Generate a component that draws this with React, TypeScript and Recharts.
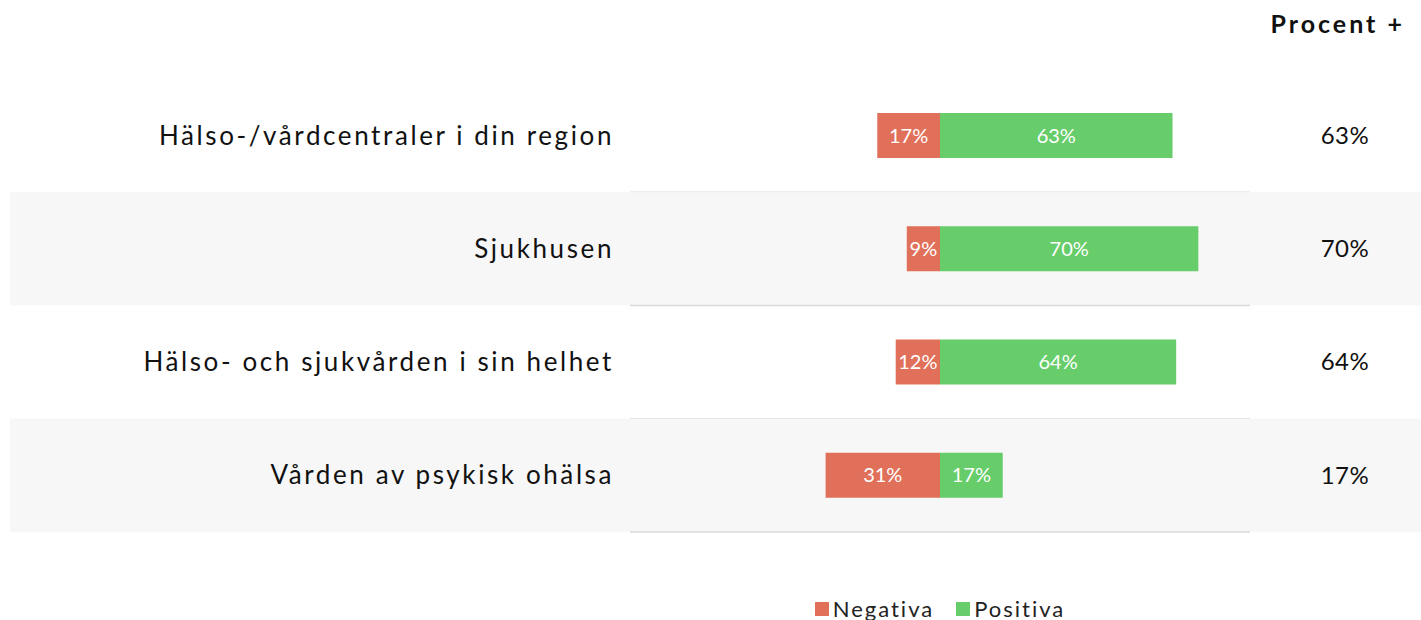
import React from "react";
import { BarChart, Bar, XAxis, YAxis, LabelList, Legend } from "recharts";

const categories = [
  "Hälso-/vårdcentraler i din region",
  "Sjukhusen",
  "Hälso- och sjukvården i sin helhet",
  "Vården av psykisk ohälsa",
];
const negativa = [17, 9, 12, 31];
const positiva = [63, 70, 64, 17];
const procentPlus = [63, 70, 64, 17];

const NEG_COLOR = "#E1705A";
const POS_COLOR = "#66CD6A";
const BAND_FILL = "#F7F7F7";
const LINE_COLOR = "#DCDCDC";
const FONT = "Lato, 'Open Sans', sans-serif";

const W = 1421;
const H = 620;
const MARGIN = { top: 79, right: 171, bottom: 88, left: 10 };
const Y_AXIS_W = 620;
const PLOT_LEFT = MARGIN.left + Y_AXIS_W;
const PLOT_RIGHT = W - MARGIN.right;
const PLOT_H = H - MARGIN.top - MARGIN.bottom;
const BAND = PLOT_H / categories.length;

const data = categories.map((name, i) => ({
  name,
  neg: -negativa[i],
  pos: positiva[i],
  plus: procentPlus[i],
}));

// striped row backgrounds + separator under each row
const RowBackground = (props: any) => {
  const { y, height, index } = props;
  const cy = y + height / 2;
  const top = cy - BAND / 2;
  return (
    <g>
      {index % 2 === 1 && (
        <rect x={MARGIN.left} y={top} width={W - MARGIN.left} height={BAND} fill={BAND_FILL} />
      )}
      <line x1={PLOT_LEFT} x2={PLOT_RIGHT} y1={top + BAND} y2={top + BAND} stroke={LINE_COLOR} strokeWidth={1.5} />
    </g>
  );
};

const CategoryTick = (props: any) => {
  const { x, y, payload } = props;
  return (
    <text
      x={x}
      y={y}
      dy="0.35em"
      textAnchor="end"
      fill="#111"
      fontSize={26}
      fontFamily={FONT}
      letterSpacing={2.6}
    >
      {payload.value}
    </text>
  );
};

const PlusLabel = (props: any) => {
  const { y, height, value } = props;
  return (
    <text
      x={PLOT_RIGHT + 95}
      y={y + height / 2}
      dy="0.35em"
      textAnchor="middle"
      fill="#111"
      fontSize={24}
      fontFamily={FONT}
      letterSpacing={0.5}
    >
      {value}%
    </text>
  );
};

const renderLegend = (props: any) => {
  const { payload } = props;
  return (
    <div style={{ display: "flex", justifyContent: "center", gap: 22, fontFamily: FONT }}>
      {(payload || []).map((item: any) => (
        <div key={item.value} style={{ display: "flex", alignItems: "center", gap: 4 }}>
          <span style={{ width: 14, height: 14, background: item.color, display: "inline-block" }} />
          <span style={{ fontSize: 22, letterSpacing: 2, color: "#222", lineHeight: "22px" }}>{item.value}</span>
        </div>
      ))}
    </div>
  );
};

export default function App() {
  return (
    <div style={{ position: "relative", width: W, height: H, background: "#fff" }}>
      <style>{`body{margin:0}`}</style>
      <div
        style={{
          position: "absolute",
          top: 8,
          right: 16,
          fontFamily: FONT,
          fontWeight: 700,
          fontSize: 25,
          letterSpacing: 3,
          color: "#111",
        }}
      >
        Procent +
      </div>
      <BarChart width={W} height={H} data={data} layout="vertical" margin={MARGIN} stackOffset="sign" barSize={45}>
        <XAxis type="number" domain={[-84, 84]} hide />
        <Bar
          dataKey="neg"
          name="Negativa"
          stackId="a"
          fill={NEG_COLOR}
          background={RowBackground}
          isAnimationActive={false}
        >
          <LabelList
            dataKey="neg"
            position="center"
            fill="#fff"
            fontSize={20}
            fontFamily={FONT}
            formatter={(v: any) => `${Math.abs(v)}%`}
          />
        </Bar>
        <Bar dataKey="pos" name="Positiva" stackId="a" fill={POS_COLOR} isAnimationActive={false}>
          <LabelList
            dataKey="pos"
            position="center"
            fill="#fff"
            fontSize={20}
            fontFamily={FONT}
            formatter={(v: any) => `${v}%`}
          />
          <LabelList dataKey="plus" content={PlusLabel} />
        </Bar>
        <YAxis
          type="category"
          dataKey="name"
          width={Y_AXIS_W}
          axisLine={false}
          tickLine={false}
          tickSize={0}
          tickMargin={16}
          tick={CategoryTick}
        />
        <Legend
          layout="horizontal"
          verticalAlign="middle"
          content={renderLegend}
          wrapperStyle={{ top: 598, left: PLOT_LEFT, width: PLOT_RIGHT - PLOT_LEFT }}
        />
      </BarChart>
    </div>
  );
}
